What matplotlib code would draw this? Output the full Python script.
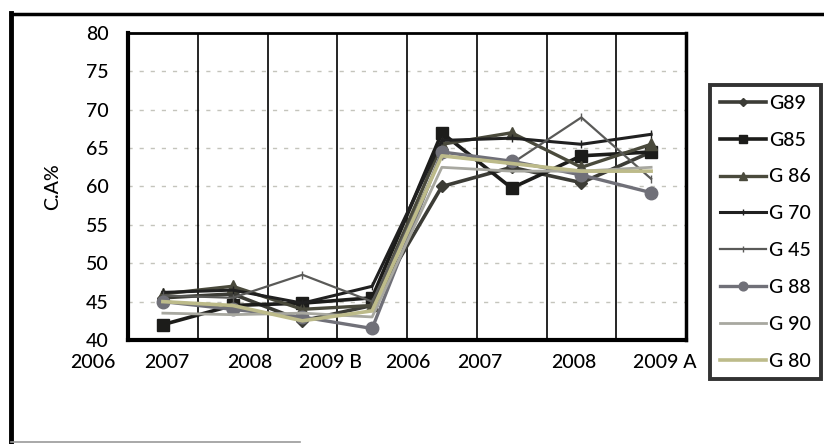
import matplotlib
matplotlib.use("Agg")
import matplotlib.pyplot as plt

plt.rcParams['font.family'] = ['Lato', 'DejaVu Sans']
plt.rcParams['font.weight'] = 'medium'

# Category periods (two series of years: B and A)
periods = ["2006", "2007", "2008", "2009 B", "2006", "2007", "2008", "2009 A"]
# Label anchor offsets along the category axis (hand-placed text boxes)
label_offsets = [-1.0, 0.05, 1.24, 2.41, 3.51, 4.55, 5.89, 7.2]

# C.A% per sample, 8 points each
g89 = [45.5, 46.0, 42.5, 44.5, 60.0, 62.5, 60.5, 64.5]
g85 = [42.0, 44.5, 44.8, 45.5, 67.0, 59.8, 64.0, 64.5]
g86 = [46.0, 47.0, 44.0, 44.5, 65.5, 67.0, 62.5, 65.5]
g70 = [46.2, 46.5, 44.8, 47.0, 66.0, 66.3, 65.5, 66.8]
g45 = [45.8, 45.5, 48.5, 45.0, 64.0, 63.0, 69.0, 61.0]
g88 = [45.0, 44.0, 43.0, 41.5, 64.5, 63.3, 61.5, 59.2]
g90 = [43.5, 43.3, 43.5, 43.0, 62.5, 62.0, 62.0, 62.5]
g80 = [45.0, 44.5, 42.5, 43.8, 64.0, 63.0, 62.0, 62.0]

series_names = ["G89", "G85", "G 86", "G 70", "G 45", "G 88", "G 90", "G 80"]
series_values = [g89, g85, g86, g70, g45, g88, g90, g80]

styles = [
    dict(color="#3c3c36", marker="D", ms=6, lw=2.6),
    dict(color="#1c1c1a", marker="s", ms=9, lw=2.6),
    dict(color="#4a4a3c", marker="^", ms=8, lw=2.4),
    dict(color="#202020", marker="|", ms=6, lw=2.2),
    dict(color="#5a5a58", marker="|", ms=6, lw=1.6),
    dict(color="#707078", marker="o", ms=9, lw=2.4),
    dict(color="#a8a8a0", marker=None, ms=0, lw=2.0),
    dict(color="#bdbb8a", marker=None, ms=0, lw=2.6),
]

W, H = 824, 444
fig = plt.figure(figsize=(W / 100, H / 100), dpi=100)
fig.patch.set_facecolor("white")

# outer frame of the figure panel
frame = fig.add_axes([0, 0, 1, 1])
frame.set_xlim(0, W)
frame.set_ylim(H, 0)
frame.axis("off")
frame.plot([11, 11], [13, 444], color="black", lw=3.5)
frame.plot([11, 824], [14, 14], color="black", lw=2.5)
frame.plot([11, 300], [442, 442], color="#9a9a9a", lw=1.2)

left, right, top, bottom = 128, 686, 33, 340
ax = fig.add_axes([left / W, 1 - bottom / H, (right - left) / W, (bottom - top) / H])
ax.set_facecolor("white")

x = list(range(len(periods)))
for name, vals, st in zip(series_names, series_values, styles):
    ax.plot(x, vals, color=st["color"], lw=st["lw"], marker=st["marker"],
            markersize=st["ms"], markeredgecolor=st["color"],
            markerfacecolor=st["color"], label=name, zorder=3)

ax.set_xlim(-0.5, 7.5)
ax.set_ylim(40, 80)
ax.set_yticks(range(40, 81, 5))
ax.set_xticks([])

# category separators
for b in range(1, len(periods)):
    ax.axvline(b - 0.5, color="black", lw=1.2, zorder=1)
# horizontal value gridlines
for yv in range(45, 80, 5):
    ax.axhline(yv, color="#c4c4bc", lw=1.0, ls=(0, (3, 5)), zorder=0)

for side in ["left", "bottom", "right", "top"]:
    ax.spines[side].set_color("black")
ax.spines["left"].set_linewidth(3)
ax.spines["bottom"].set_linewidth(3)
ax.spines["right"].set_linewidth(2.5)
ax.spines["top"].set_linewidth(2)

FS = 14
ax.tick_params(axis="y", length=0, pad=14, labelsize=FS)

for lab, off in zip(periods, label_offsets):
    ax.text(off, -0.072, lab, transform=ax.get_xaxis_transform(),
            ha="center", va="center", fontsize=FS)

fig.text(53 / W, 1 - 187 / H, "C.A%", rotation=90, ha="center", va="center",
         fontsize=FS)

leg = fig.legend(loc="upper left", bbox_to_anchor=(710 / W, 1 - 85 / H),
                 bbox_transform=fig.transFigure, borderaxespad=0,
                 fontsize=14, frameon=True, fancybox=False,
                 handlelength=2.4, handletextpad=0.15, labelspacing=1.02,
                 borderpad=0.5, markerscale=0.7)
leg.get_frame().set_edgecolor("black")
leg.get_frame().set_linewidth(2.8)

fig.savefig("out.png", dpi=100, facecolor="white")
